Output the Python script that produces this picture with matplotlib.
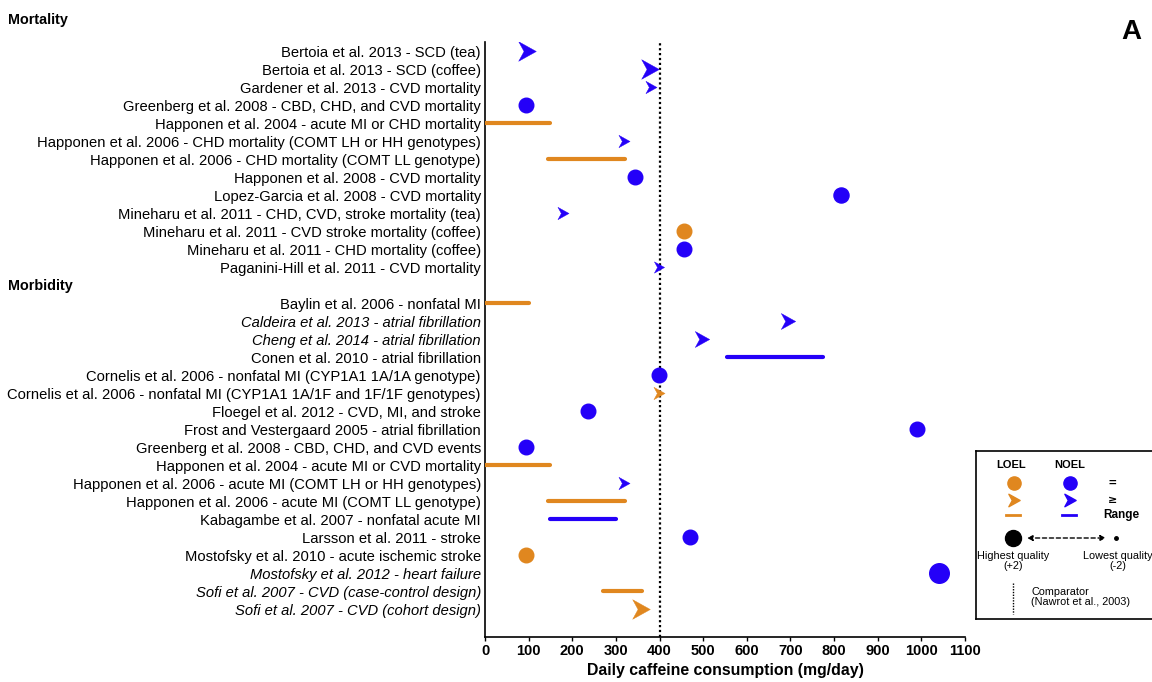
import matplotlib
matplotlib.use("Agg")
import matplotlib.pyplot as plt
from matplotlib.path import Path
from matplotlib.transforms import blended_transform_factory
import numpy as np

plt.rcParams['font.family'] = ['Liberation Sans', 'DejaVu Sans']

# ---------------- data ----------------
mortality_labels = [
    "Bertoia et al. 2013 - SCD (tea)",
    "Bertoia et al. 2013 - SCD (coffee)",
    "Gardener et al. 2013 - CVD mortality",
    "Greenberg et al. 2008 - CBD, CHD, and CVD mortality",
    "Happonen et al. 2004 - acute MI or CHD mortality",
    "Happonen et al. 2006 - CHD mortality (COMT LH or HH genotypes)",
    "Happonen et al. 2006 - CHD mortality (COMT LL genotype)",
    "Happonen et al. 2008 - CVD mortality",
    "Lopez-Garcia et al. 2008 - CVD mortality",
    "Mineharu et al. 2011 - CHD, CVD, stroke mortality (tea)",
    "Mineharu et al. 2011 - CVD stroke mortality (coffee)",
    "Mineharu et al. 2011 - CHD mortality (coffee)",
    "Paganini-Hill et al. 2011 - CVD mortality",
]
mortality_low = [96, 378, 380, 94, 0, 318, 145, 344, 815, 178, 455, 455, 398]
mortality_high = [None, None, None, None, 150, None, 320, None, None, None, None, None, None]
mortality_mark = ["arrow", "arrow", "arrow", "dot", "range", "arrow", "range", "dot", "dot",
                  "arrow", "dot", "dot", "arrow"]
mortality_level = ["NOEL", "NOEL", "NOEL", "NOEL", "LOEL", "NOEL", "LOEL", "NOEL", "NOEL",
                   "NOEL", "LOEL", "NOEL", "NOEL"]
mortality_quality = [1, 1, -1, 0, 0, -1, 0, 0, 0.2, -1, 0, 0, -1.3]
mortality_italic = [False] * 13

morbidity_labels = [
    "Baylin et al. 2006 - nonfatal MI",
    "Caldeira et al. 2013 - atrial fibrillation",
    "Cheng et al. 2014 - atrial fibrillation",
    "Conen et al. 2010 - atrial fibrillation",
    "Cornelis et al. 2006 - nonfatal MI (CYP1A1 1A/1A genotype)",
    "Cornelis et al. 2006 - nonfatal MI (CYP1A1 1A/1F and 1F/1F genotypes)",
    "Floegel et al. 2012 - CVD, MI, and stroke",
    "Frost and Vestergaard 2005 - atrial fibrillation",
    "Greenberg et al. 2008 - CBD, CHD, and CVD events",
    "Happonen et al. 2004 - acute MI or CVD mortality",
    "Happonen et al. 2006 - acute MI (COMT LH or HH genotypes)",
    "Happonen et al. 2006 - acute MI (COMT LL genotype)",
    "Kabagambe et al. 2007 - nonfatal acute MI",
    "Larsson et al. 2011 - stroke",
    "Mostofsky et al. 2010 - acute ischemic stroke",
    "Mostofsky et al. 2012 - heart failure",
    "Sofi et al. 2007 - CVD (case-control design)",
    "Sofi et al. 2007 - CVD (cohort design)",
]
morbidity_low = [0, 694, 497, 555, 398, 398, 235, 990, 93, 0, 318, 145, 150, 470, 94, 1040, 270, 358]
morbidity_high = [100, None, None, 775, None, None, None, None, None, 150, None, 320, 300,
                  None, None, None, 360, None]
morbidity_mark = ["range", "arrow", "arrow", "range", "dot", "arrow", "dot", "dot", "dot", "range",
                  "arrow", "range", "range", "dot", "dot", "dot", "range", "arrow"]
morbidity_level = ["LOEL", "NOEL", "NOEL", "NOEL", "NOEL", "LOEL", "NOEL", "NOEL", "NOEL", "LOEL",
                   "NOEL", "LOEL", "NOEL", "NOEL", "LOEL", "NOEL", "LOEL", "LOEL"]
morbidity_quality = [0, 0, 0, 0, 0, -1, 0, 0, 0, 0, -1, 0, 0, 0, 0, 2, 0, 1]
morbidity_italic = [False, True, True, False, False, False, False, False, False, False,
                    False, False, False, False, False, True, True, True]

comparator = 400
x_ticks = [0, 100, 200, 300, 400, 500, 600, 700, 800, 900, 1000, 1100]

# ---------------- styles ----------------
COLORS = {"LOEL": "#E0871F", "NOEL": "#2400F8"}
arrow_marker = Path([(0.9, 0), (-0.9, 1), (-0.35, 0), (-0.9, -1), (0.9, 0)],
                    [Path.MOVETO, Path.LINETO, Path.LINETO, Path.LINETO, Path.CLOSEPOLY])

def dot_size(q):
    return 10.5 + 1.8 * q

def arrow_size(q):
    return 11.5 + 2.6 * q

W, H = 1152, 682
fig = plt.figure(figsize=(W / 100, H / 100), dpi=100)
ax = fig.add_axes([485 / W, (H - 637) / H, 480 / W, (637 - 42) / H])

labels = mortality_labels + morbidity_labels
lows = mortality_low + morbidity_low
highs = mortality_high + morbidity_high
marks = mortality_mark + morbidity_mark
levels = mortality_level + morbidity_level
quals = mortality_quality + morbidity_quality
italics = mortality_italic + morbidity_italic
ypos = list(range(len(mortality_labels))) + \
    [len(mortality_labels) + 1 + i for i in range(len(morbidity_labels))]

ax.axvline(comparator, color="black", linestyle=(0, (1, 1.2)), lw=1.6, zorder=1)

for y, lo, hi, m, lev, q in zip(ypos, lows, highs, marks, levels, quals):
    c = COLORS[lev]
    if m == "range":
        ax.plot([lo, hi], [y, y], color=c, lw=3, solid_capstyle="round", zorder=3)
    elif m == "dot":
        ax.plot(lo, y, marker="o", ms=dot_size(q), color=c, mec=c, zorder=3)
    else:
        ax.plot(lo, y, marker=arrow_marker, ms=arrow_size(q), color=c, mec=c, mew=0.3, zorder=3)

ax.set_xlim(0, 1100)
ax.set_ylim(32.55, -0.5)
ax.set_xticks(x_ticks)
ax.set_xticklabels([str(t) for t in x_ticks], fontsize=10.5, fontweight="bold")
ax.set_yticks(ypos)
ax.set_yticklabels(labels, fontsize=10.6)
for tl, it in zip(ax.get_yticklabels(), italics):
    if it:
        tl.set_fontstyle("italic")
ax.tick_params(axis="y", length=0, pad=3)
ax.tick_params(axis="x", length=3, width=1, pad=2)
for s in ["top", "right"]:
    ax.spines[s].set_visible(False)
for s in ["left", "bottom"]:
    ax.spines[s].set_linewidth(1.2)
ax.set_xlabel("Daily caffeine consumption (mg/day)", fontsize=11.4, fontweight="bold", labelpad=4)

tr = blended_transform_factory(fig.transFigure, ax.transData)
ax.text(8 / W, -1.72, "Mortality", transform=tr, fontsize=10.4, fontweight="bold",
        ha="left", va="center")
ax.text(8 / W, 13.05, "Morbidity", transform=tr, fontsize=10.4, fontweight="bold",
        ha="left", va="center")

fig.text(1131 / W, 1 - 32 / H, "A", fontsize=20, fontweight="bold", ha="center", va="center")

# ---------------- legend box (pixel coordinates) ----------------
lx0, lx1, ly0, ly1 = 976, 1154, 451, 619
lg = fig.add_axes([lx0 / W, (H - ly1) / H, (lx1 - lx0) / W, (ly1 - ly0) / H])
lg.set_xlim(lx0, lx1)
lg.set_ylim(ly1, ly0)
lg.set_xticks([])
lg.set_yticks([])
for s in lg.spines.values():
    s.set_linewidth(1.2)

lg.text(1011, 465, "LOEL", fontsize=8, fontweight="bold", ha="center", va="center")
lg.text(1070, 465, "NOEL", fontsize=8, fontweight="bold", ha="center", va="center")
lg.plot(1014, 483, marker="o", ms=9.5, color=COLORS["LOEL"])
lg.plot(1070, 483, marker="o", ms=9.5, color=COLORS["NOEL"])
lg.text(1112, 484, "=", fontsize=9.5, fontweight="bold", ha="center", va="center")
lg.plot(1014, 500, marker=arrow_marker, ms=9, color=COLORS["LOEL"])
lg.plot(1070, 500, marker=arrow_marker, ms=9, color=COLORS["NOEL"])
lg.text(1113, 500, "≥", fontsize=8, fontweight="bold", ha="center", va="center",
        family=['DejaVu Sans'])
lg.plot([1006, 1020], [515, 515], color=COLORS["LOEL"], lw=2)
lg.plot([1062, 1076], [515, 515], color=COLORS["NOEL"], lw=2)
lg.text(1103, 515, "Range", fontsize=8.5, fontweight="bold", ha="left", va="center")
lg.plot(1013, 538, marker="o", ms=11.5, color="black")
lg.annotate("", xy=(1106, 538), xytext=(1027, 538),
            arrowprops=dict(arrowstyle="<|-|>", linestyle=(0, (3, 2)), lw=1, color="black",
                            mutation_scale=8, shrinkA=0, shrinkB=0))
lg.plot(1116, 538, marker="o", ms=2.5, color="black")
lg.text(1013, 561, "Highest quality\n(+2)", fontsize=7.8, ha="center", va="center",
        linespacing=1.0)
lg.text(1118, 561, "Lowest quality\n(-2)", fontsize=7.8, ha="center", va="center",
        linespacing=1.0)
lg.plot([1013, 1013], [583, 614], color="black", lw=1, linestyle=(0, (1, 1)))
lg.text(1031, 597, "Comparator\n(Nawrot et al., 2003)", fontsize=7.8, ha="left", va="center",
        linespacing=1.05)

fig.savefig("out.png", dpi=100)
